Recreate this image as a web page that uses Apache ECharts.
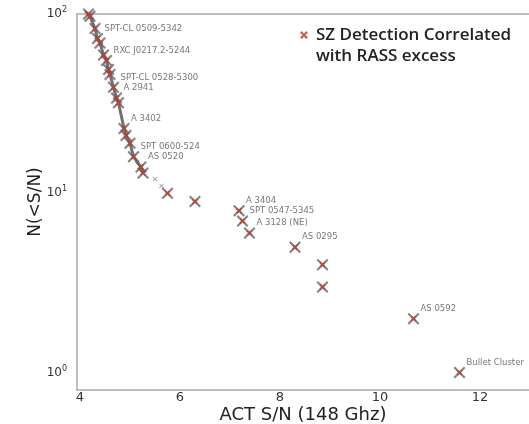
<!DOCTYPE html>
<html><head><meta charset="utf-8">
<script src="https://cdn.jsdelivr.net/npm/echarts@6/dist/echarts.min.js"></script>
<style>html,body{margin:0;padding:0;background:#fff}#c{width:529px;height:424px}</style>
</head><body><div id="c"></div>
<script>
// Cumulative counts curve (dense part)
const curveSN = [4.17, 4.2, 4.3, 4.35, 4.4, 4.47, 4.53, 4.57, 4.6, 4.67, 4.73, 4.77, 4.88, 4.92, 5.0, 5.07, 5.22, 5.26];
const curveN  = [100, 97, 83, 73, 69, 59, 55, 49, 46, 39, 34, 32, 23, 21, 19, 16, 14, 13];
// Other detections (not RASS correlated)
const otherSN = [5.5, 5.63];
const otherN  = [12, 11];
// SZ detections correlated with RASS excess
const rassSN = [4.17, 4.2, 4.3, 4.35, 4.4, 4.47, 4.53, 4.57, 4.6, 4.67, 4.73, 4.77, 4.88, 4.92, 5.0, 5.07, 5.22, 5.26, 5.75, 6.3, 7.18, 7.25, 7.39, 8.3, 8.85, 8.85, 10.67, 11.59];
const rassN  = [100, 97, 83, 73, 69, 59, 55, 49, 46, 39, 34, 32, 23, 21, 19, 16, 14, 13, 10, 9, 8, 7, 6, 5, 4, 3, 2, 1];
const rassLabels = ['', '', '', 'SPT-CL 0509-5342', '', '', 'RXC J0217.2-5244', '', '', 'SPT-CL 0528-5300', 'A 2941', '', 'A 3402', '', '', 'SPT 0600-524', 'AS 0520', '', '', '', 'A 3404', 'SPT 0547-5345', 'A 3128 (NE)', 'AS 0295', '', '', 'AS 0592', 'Bullet Cluster'];
const xTicks = [4, 6, 8, 10, 12];
const yTicks = [1, 10, 100];
const seriesName = 'SZ Detection Correlated with RASS excess';

const XTHIN = 'path://M1.5,0 L6,4.5 L10.5,0 L12,1.5 L7.5,6 L12,10.5 L10.5,12 L6,7.5 L1.5,12 L0,10.5 L4.5,6 L0,1.5 Z';
const XFILL = 'path://M2,0 L5,3 L8,0 L10,2 L7,5 L10,8 L8,10 L5,7 L2,10 L0,8 L3,5 L0,2 Z';
const XLEG = 'path://M2,0 L5,3 L8,0 L10,2 L7,5 L10,8 L8,10 L5,7 L2,10 L0,8 L3,5 L0,2 Z M5,36 L5.01,36 L5,36.01 Z';
const chart = echarts.init(document.getElementById('c'), null, {renderer: 'canvas'});
const supers = {0: '0', 1: '1', 2: '2'};
const pts = rassSN.map((x, i) => [x, rassN[i]]);
chart.setOption({
  animation: false,
  backgroundColor: '#fff',
  textStyle: {fontFamily: 'DejaVu Sans'},
  grid: {left: 77, top: 14, right: 0, bottom: 34, containLabel: false, outerBoundsMode: 'none'},
  legend: {
    left: 295, top: 19,
    itemWidth: 8, itemHeight: 28.8, itemGap: 4,
    data: [{name: seriesName, icon: XLEG, itemStyle: {color: '#c0392b', borderWidth: 0}}],
    formatter: () => 'SZ Detection Correlated\nwith RASS excess',
    textStyle: {fontFamily: 'Open Sans', fontWeight: 600, fontSize: 17, color: '#222', lineHeight: 21.5, padding: [0, 0, 0, 3]}
  },
  xAxis: [{
    type: 'value', min: 3.94, max: 12.98,
    name: 'ACT S/N (148 Ghz)', nameLocation: 'middle', nameGap: 16, nameMoveOverlap: false,
    nameTextStyle: {fontSize: 18, color: '#222', fontFamily: 'DejaVu Sans'},
    axisLine: {show: true, lineStyle: {color: '#aaa', width: 1.5}},
    axisTick: {show: false},
    splitLine: {show: false},
    axisLabel: {customValues: xTicks, fontSize: 13, color: '#333', margin: 1}
  }, {
    type: 'value', position: 'top', min: 3.94, max: 12.98,
    axisLine: {show: true, lineStyle: {color: '#aaa', width: 1.5}},
    axisTick: {show: false}, axisLabel: {show: false}, splitLine: {show: false}
  }],
  yAxis: {
    type: 'log', logBase: 10, min: 0.8, max: 100,
    name: 'N(<S/N)', nameLocation: 'middle', nameGap: 33, nameRotate: 90, nameMoveOverlap: false,
    nameTextStyle: {fontSize: 17, color: '#222'},
    axisLine: {show: true, lineStyle: {color: '#aaa', width: 1.5}},
    axisTick: {show: false},
    splitLine: {show: false},
    axisLabel: {
      customValues: yTicks, margin: 10, color: '#333',
      formatter: v => '{b|10}{s|' + supers[Math.round(Math.log10(v))] + '}',
      rich: {b: {fontSize: 12, color: '#333'}, s: {fontSize: 8, color: '#333', verticalAlign: 'top', padding: [0, 0, 8, 0]}}
    }
  },
  series: [{
    name: 'curve', type: 'line',
    data: curveSN.map((x, i) => [x, curveN[i]]),
    showSymbol: false, symbol: 'none',
    lineStyle: {color: '#707070', width: 3},
    z: 1
  }, {
    name: 'other', type: 'scatter',
    data: otherSN.map((x, i) => [x, otherN[i]]),
    symbol: XTHIN, symbolSize: 5,
    itemStyle: {color: '#888'},
    z: 2
  }, {
    name: 'outline', type: 'scatter',
    data: pts,
    symbol: XTHIN, symbolSize: 12,
    itemStyle: {color: '#666'},
    z: 3
  }, {
    name: seriesName, type: 'scatter',
    data: rassSN.map((x, i) => ({value: [x, rassN[i]], name: rassLabels[i]})),
    symbol: XFILL, symbolSize: 6,
    itemStyle: {color: '#c0392b'},
    label: {
      show: true, position: 'right', distance: 4, offset: [0, -10],
      formatter: p => p.name || '',
      fontSize: 8.5, color: '#555', fontFamily: 'DejaVu Sans'
    },
    z: 4
  }]
});
</script>
</body></html>
